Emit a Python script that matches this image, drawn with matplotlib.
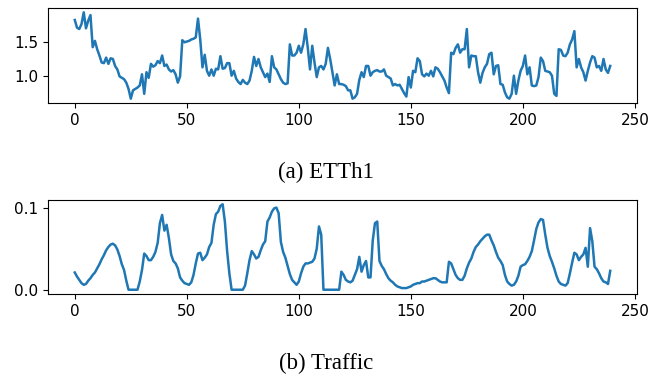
import matplotlib
matplotlib.use("Agg")
import matplotlib.pyplot as plt
import numpy as np

etth1 = [
    1.81, 1.70, 1.68, 1.75, 1.92, 1.69, 1.80, 1.88, 1.42, 1.51,
    1.39, 1.30, 1.20, 1.19, 1.27, 1.18, 1.26, 1.25, 1.15, 1.10,
    1.00, 0.98, 0.96, 0.91, 0.82, 0.68, 0.80, 0.82, 0.84, 0.87,
    1.03, 0.75, 1.06, 0.98, 1.18, 1.14, 1.16, 1.22, 1.19, 1.30,
    1.15, 1.17, 1.10, 1.07, 1.09, 1.03, 0.91, 1.00, 1.52, 1.49,
    1.50, 1.51, 1.53, 1.54, 1.56, 1.83, 1.53, 1.13, 1.31, 1.08,
    1.01, 1.10, 1.01, 1.11, 1.10, 1.29, 1.11, 1.12, 1.19, 1.19,
    1.01, 1.08, 0.97, 0.92, 0.89, 0.95, 0.91, 0.89, 0.94, 1.08,
    1.28, 1.15, 1.25, 1.13, 1.06, 0.99, 1.04, 0.92, 1.29, 1.13,
    1.10, 1.03, 0.96, 0.91, 0.89, 0.90, 1.46, 1.30, 1.30, 1.34,
    1.44, 1.34, 1.46, 1.68, 1.41, 1.10, 1.44, 1.20, 0.99, 1.13,
    1.15, 1.10, 1.18, 1.41, 1.25, 1.06, 0.87, 1.03, 0.89, 0.89,
    0.88, 0.86, 0.80, 0.80, 0.68, 0.70, 0.75, 0.95, 1.06, 0.99,
    1.15, 1.15, 1.01, 1.06, 1.08, 1.09, 1.07, 1.07, 1.10, 1.01,
    0.99, 0.97, 0.87, 0.89, 0.87, 0.88, 0.82, 0.76, 0.71, 0.99,
    0.84, 1.08, 1.06, 1.26, 1.22, 1.03, 1.00, 1.04, 1.01, 1.08,
    1.00, 1.13, 1.11, 1.06, 1.00, 0.94, 0.84, 0.76, 1.34, 1.32,
    1.41, 1.46, 1.34, 1.39, 1.39, 1.68, 1.13, 1.30, 1.29, 1.29,
    1.06, 0.91, 1.05, 1.13, 1.18, 1.32, 1.34, 1.03, 1.15, 1.16,
    0.89, 0.88, 0.77, 0.70, 0.68, 0.75, 1.01, 0.75, 0.94, 1.08,
    1.15, 1.30, 1.03, 1.13, 0.87, 0.86, 0.87, 0.99, 1.27, 1.22,
    1.08, 1.07, 1.06, 1.01, 0.75, 0.72, 1.39, 1.38, 1.30, 1.29,
    1.34, 1.46, 1.53, 1.65, 1.13, 1.25, 1.13, 1.06, 0.94, 1.08,
    1.20, 1.29, 1.27, 1.13, 1.15, 1.08, 1.25, 1.10, 1.05, 1.15,
]

traffic = [
    0.021, 0.016, 0.012, 0.008, 0.006, 0.007, 0.011, 0.014, 0.018, 0.021,
    0.026, 0.031, 0.037, 0.042, 0.048, 0.052, 0.055, 0.056, 0.054, 0.049,
    0.041, 0.031, 0.024, 0.011, 0.000, 0.000, 0.000, 0.000, 0.000, 0.010,
    0.024, 0.044, 0.041, 0.036, 0.036, 0.040, 0.046, 0.057, 0.081, 0.091,
    0.072, 0.079, 0.063, 0.043, 0.035, 0.032, 0.026, 0.015, 0.011, 0.008,
    0.007, 0.006, 0.009, 0.018, 0.032, 0.044, 0.045, 0.036, 0.039, 0.043,
    0.052, 0.057, 0.079, 0.092, 0.095, 0.102, 0.104, 0.083, 0.047, 0.020,
    0.000, 0.000, 0.000, 0.000, 0.000, 0.000, 0.005, 0.020, 0.036, 0.047,
    0.043, 0.038, 0.040, 0.048, 0.055, 0.059, 0.083, 0.088, 0.095, 0.099,
    0.100, 0.093, 0.058, 0.046, 0.039, 0.029, 0.019, 0.012, 0.009, 0.006,
    0.010, 0.020, 0.028, 0.032, 0.032, 0.033, 0.034, 0.038, 0.050, 0.077,
    0.067, 0.000, 0.000, 0.000, 0.000, 0.000, 0.000, 0.000, 0.000, 0.022,
    0.018, 0.012, 0.010, 0.009, 0.011, 0.018, 0.025, 0.040, 0.022, 0.030,
    0.035, 0.015, 0.015, 0.060, 0.081, 0.083, 0.035, 0.029, 0.025, 0.019,
    0.014, 0.011, 0.009, 0.006, 0.004, 0.003, 0.002, 0.002, 0.002, 0.003,
    0.004, 0.006, 0.007, 0.008, 0.008, 0.010, 0.010, 0.011, 0.012, 0.013,
    0.014, 0.014, 0.012, 0.010, 0.009, 0.009, 0.009, 0.034, 0.032, 0.025,
    0.018, 0.014, 0.012, 0.012, 0.017, 0.026, 0.033, 0.038, 0.046, 0.052,
    0.055, 0.059, 0.062, 0.065, 0.067, 0.067, 0.060, 0.054, 0.046, 0.039,
    0.035, 0.030, 0.018, 0.010, 0.007, 0.005, 0.006, 0.010, 0.017, 0.028,
    0.030, 0.031, 0.035, 0.040, 0.047, 0.060, 0.074, 0.082, 0.086, 0.085,
    0.067, 0.051, 0.041, 0.034, 0.026, 0.017, 0.010, 0.007, 0.006, 0.005,
    0.008, 0.020, 0.033, 0.045, 0.043, 0.036, 0.040, 0.043, 0.051, 0.028,
    0.075, 0.059, 0.028, 0.025, 0.020, 0.014, 0.010, 0.009, 0.007, 0.023,
]

captions = ["(a) ETTh1", "(b) Traffic"]
xticks = [0, 50, 100, 150, 200, 250]
yticks_top = [1.0, 1.5]
yticks_bottom = [0.0, 0.1]

W, H = 652, 379
fig = plt.figure(figsize=(W / 100, H / 100), dpi=100)

def ax_rect(left, top, right, bottom):
    return [left / W, 1 - bottom / H, (right - left) / W, (bottom - top) / H]

ax1 = fig.add_axes(ax_rect(48, 8, 637, 103))
ax2 = fig.add_axes(ax_rect(48, 200, 637, 294))

for ax, data, yt, cap, capy in [
    (ax1, etth1, yticks_top, captions[0], 172),
    (ax2, traffic, yticks_bottom, captions[1], 363),
]:
    ax.plot(np.arange(len(data)), data, color="#1f77b4", linewidth=1.8)
    ax.set_xticks(xticks)
    ax.set_yticks(yt)
    ax.set_yticklabels([f"{v:.1f}" for v in yt])
    ax.tick_params(labelsize=11)
    fig.text(0.5, 1 - capy / H, cap, ha="center", va="center",
             family="Liberation Serif", fontsize=16.5)

fig.savefig("out.png", dpi=100)
